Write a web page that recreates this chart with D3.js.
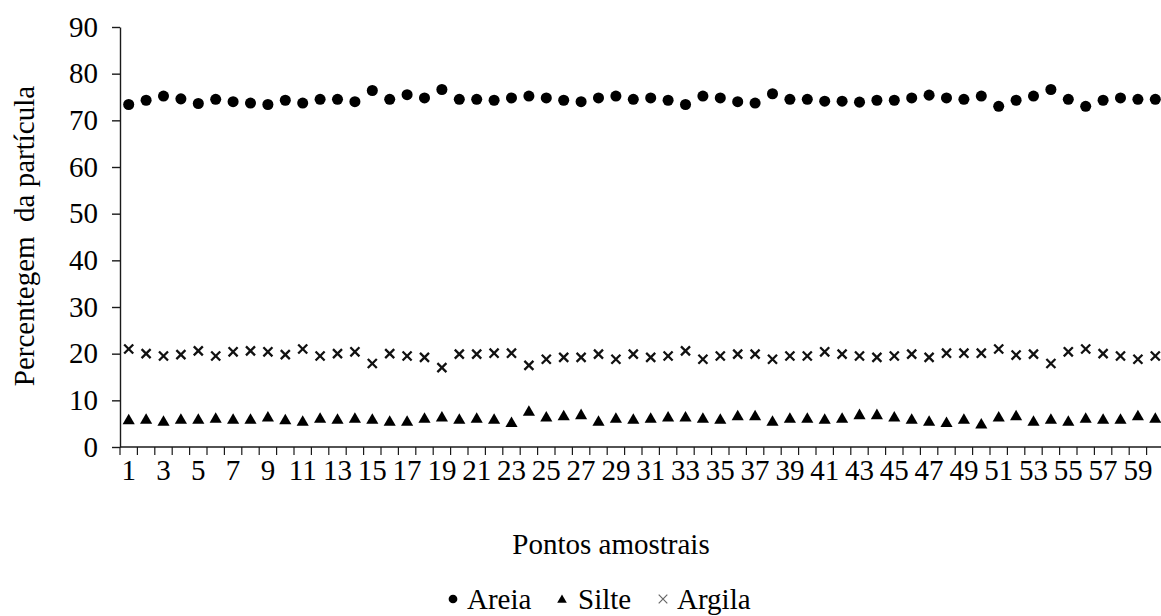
<!DOCTYPE html>
<html>
<head>
<meta charset="utf-8">
<script src="https://cdn.jsdelivr.net/npm/d3@7"></script>
<style>
  body { margin: 0; background: #fff; }
  svg { display: block; }
  svg text { font-family: "Liberation Serif", "Times New Roman", serif !important; }
</style>
</head>
<body>
<div id="vis"></div>
<script>
// sample points 1..60
const pontos = d3.range(1, 61);
const yTicks = [0, 10, 20, 30, 40, 50, 60, 70, 80, 90];
const xLabels = pontos.filter(d => d % 2 === 1);

const areia = [
  73.4, 74.3, 75.2, 74.6, 73.6, 74.5, 74.0, 73.7, 73.4, 74.3,
  73.7, 74.5, 74.5, 74.0, 76.4, 74.5, 75.5, 74.8, 76.6, 74.5,
  74.5, 74.3, 74.8, 75.2, 74.8, 74.3, 74.0, 74.8, 75.2, 74.5,
  74.8, 74.3, 73.4, 75.2, 74.8, 74.0, 73.7, 75.7, 74.5, 74.5,
  74.1, 74.1, 73.9, 74.3, 74.3, 74.8, 75.4, 74.8, 74.5, 75.2,
  73.0, 74.3, 75.2, 76.6, 74.5, 73.0, 74.3, 74.8, 74.5, 74.5
];
const silte = [
  6.0, 6.1, 5.7, 6.1, 6.1, 6.3, 6.1, 6.1, 6.6, 6.0,
  5.7, 6.3, 6.1, 6.3, 6.1, 5.7, 5.7, 6.3, 6.6, 6.1,
  6.3, 6.1, 5.4, 7.8, 6.6, 6.85, 7.1, 5.7, 6.3, 6.1,
  6.3, 6.6, 6.6, 6.3, 6.1, 6.85, 6.85, 5.7, 6.3, 6.3,
  6.1, 6.3, 7.1, 7.1, 6.6, 6.1, 5.7, 5.4, 6.1, 5.1,
  6.6, 6.85, 5.7, 6.1, 5.7, 6.3, 6.1, 6.1, 6.85, 6.3
];
const argila = [
  21.0, 20.0, 19.5, 19.8, 20.6, 19.5, 20.4, 20.6, 20.4, 19.8,
  21.0, 19.5, 20.0, 20.4, 17.9, 20.0, 19.5, 19.2, 17.0, 19.9,
  19.9, 20.1, 20.1, 17.5, 18.8, 19.2, 19.2, 19.9, 18.8, 19.9,
  19.2, 19.5, 20.6, 18.8, 19.5, 19.9, 19.9, 18.8, 19.5, 19.5,
  20.4, 19.9, 19.5, 19.2, 19.5, 19.9, 19.2, 20.1, 20.1, 20.1,
  21.0, 19.7, 19.9, 17.9, 20.4, 21.0, 20.0, 19.5, 18.8, 19.5
];

function createVis() {
  const width = 1161;
  const height = 616;
  const fontSize = 29;

  const svg = d3.select("#vis")
    .append("svg")
    .attr("width", width)
    .attr("height", height)
    .attr("viewBox", [0, 0, width, height]);

  const x = d3.scaleBand()
    .domain(pontos)
    .range([120, 1164])
    .paddingInner(0)
    .paddingOuter(0);

  const y = d3.scaleLinear()
    .domain([0, 90])
    .range([447, 27]);

  // y axis
  const yAxis = svg.append("g")
    .attr("transform", `translate(${x.range()[0]},0)`)
    .call(d3.axisLeft(y).tickValues(yTicks).tickSize(8).tickPadding(14).tickSizeOuter(0));
  yAxis.attr("font-family", null).attr("font-size", null);
  yAxis.select(".domain").attr("stroke", "#1a1a1a").attr("stroke-width", 1.4);
  yAxis.selectAll(".tick line").attr("stroke", "#1a1a1a").attr("stroke-width", 1.4);
  yAxis.selectAll(".tick text")
    .style("font-size", fontSize + "px")
    .attr("fill", "#000");

  // x axis line + ticks between categories
  const xg = svg.append("g");
  xg.append("line")
    .attr("x1", x.range()[0]).attr("x2", x.range()[1])
    .attr("y1", y(0)).attr("y2", y(0))
    .attr("stroke", "#1a1a1a").attr("stroke-width", 1.4);
  xg.selectAll("line.tk")
    .data(d3.range(0, pontos.length + 1))
    .join("line")
    .attr("class", "tk")
    .attr("x1", i => x.range()[0] + i * x.step())
    .attr("x2", i => x.range()[0] + i * x.step())
    .attr("y1", y(0)).attr("y2", y(0) + 8)
    .attr("stroke", "#1a1a1a").attr("stroke-width", 1.2);

  const xAxis = svg.append("g")
    .attr("transform", `translate(0,${y(0)})`)
    .call(d3.axisBottom(x).tickValues(xLabels).tickSize(0).tickPadding(12));
  xAxis.attr("font-family", null).attr("font-size", null);
  xAxis.select(".domain").remove();
  xAxis.selectAll(".tick text")
    .style("font-size", fontSize + "px")
    .attr("fill", "#000");

  const cx = d => x(d) + x.bandwidth() / 2;

  // Areia
  svg.append("g").selectAll("path")
    .data(pontos)
    .join("path")
    .attr("d", d3.symbol(d3.symbolCircle, 96))
    .attr("transform", (d, i) => `translate(${cx(d)},${y(areia[i])})`)
    .attr("fill", "#000");

  // Silte
  const triSize = 64;
  const triH = Math.sqrt(triSize * Math.sqrt(3));
  svg.append("g").selectAll("path")
    .data(pontos)
    .join("path")
    .attr("d", d3.symbol(d3.symbolTriangle, triSize))
    .attr("transform", (d, i) => `translate(${cx(d)},${y(silte[i]) + triH / 6})`)
    .attr("fill", "#000");

  // Argila
  const timesType = d3.symbolTimes || d3.symbolX;
  svg.append("g").selectAll("path")
    .data(pontos)
    .join("path")
    .attr("d", d3.symbol(timesType, 55))
    .attr("transform", (d, i) => `translate(${cx(d)},${y(argila[i])})`)
    .attr("fill", "none")
    .attr("stroke", "#111")
    .attr("stroke-width", 2.3);

  // titles
  svg.append("text")
    .attr("transform", "translate(34,236) rotate(-90)")
    .attr("text-anchor", "middle")
    .style("font-size", fontSize + "px")
    .attr("fill", "#000")
    .style("white-space", "pre")
    .text("Percentegem  da partícula");

  svg.append("text")
    .attr("x", 611)
    .attr("y", 554)
    .attr("text-anchor", "middle")
    .style("font-size", fontSize + "px")
    .attr("fill", "#000")
    .text("Pontos amostrais");

  // legend
  const legend = svg.append("g").attr("transform", "translate(0,599)");
  legend.append("path")
    .attr("d", d3.symbol(d3.symbolCircle, 60))
    .attr("transform", "translate(453,0)")
    .attr("fill", "#000");
  legend.append("text").attr("x", 467).attr("y", 10).style("font-size", fontSize + "px").text("Areia");

  legend.append("path")
    .attr("d", d3.symbol(d3.symbolTriangle, 40))
    .attr("transform", "translate(562,1)")
    .attr("fill", "#000");
  legend.append("text").attr("x", 578).attr("y", 10).style("font-size", fontSize + "px").text("Silte");

  legend.append("path")
    .attr("d", d3.symbol(timesType, 50))
    .attr("transform", "translate(663,0)")
    .attr("fill", "none")
    .attr("stroke", "#666")
    .attr("stroke-width", 1.2);
  legend.append("text").attr("x", 677).attr("y", 10).style("font-size", fontSize + "px").text("Argila");
}

window.addEventListener("load", createVis);
</script>
</body>
</html>
